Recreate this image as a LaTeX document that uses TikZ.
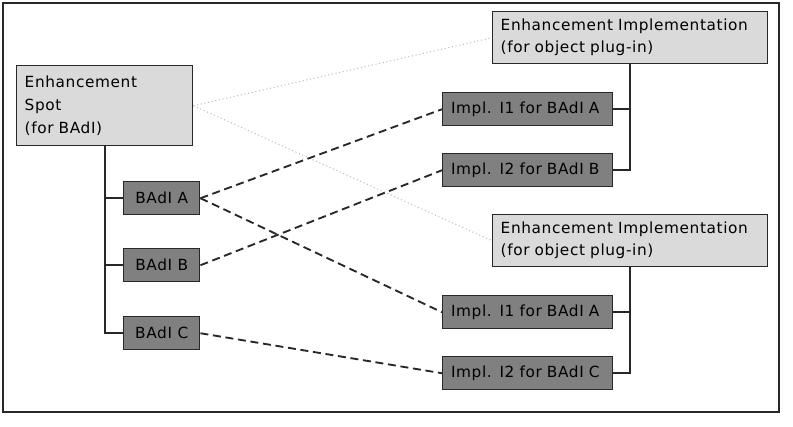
\documentclass[tikz,border=0pt]{standalone}
\usepackage{fontspec}
\setmainfont[LetterSpace=4]{DejaVu Sans}
\definecolor{boxlight}{RGB}{218,218,218}
\definecolor{boxdark}{RGB}{128,128,128}
\definecolor{edge}{RGB}{40,40,40}
\tikzset{
  lightbox/.style={draw=edge, line width=1.1pt, fill=boxlight, anchor=north west,
    align=left, inner xsep=6pt, inner ysep=0pt, font=\fontsize{11.5}{17}\selectfont},
  darkbox/.style={draw=edge, line width=1.1pt, fill=boxdark, anchor=north west,
    inner sep=0pt, minimum height=24.75pt, font=\fontsize{11.5}{13}\selectfont},
  tree/.style={draw=edge, line width=1.2pt},
  link/.style={draw=edge, line width=1.4pt, dash pattern=on 6pt off 3.5pt},
  plug/.style={draw=gray!50, line width=0.8pt, dotted},
}
\begin{document}
\begin{tikzpicture}[x=0.75pt,y=-0.75pt]
    \useasboundingbox (0,0) rectangle (793,426);
    \draw[line width=1.3pt, edge] (3,3) rectangle (779,412);
    % left side
    \node[lightbox, text width=120pt, minimum height=60pt] (spot) at (16,65)
      {Enhancement\\Spot\\(for BAdI)};
    \node[darkbox, minimum width=57pt] (badia) at (123,181) {BAdI A};
    \node[darkbox, minimum width=57pt] (badib) at (123,248) {BAdI B};
    \node[darkbox, minimum width=57pt] (badic) at (123,316) {BAdI C};
    % right side
    \node[lightbox, text width=194pt, minimum height=39pt,
      font=\fontsize{11.5}{16.5}\selectfont] (implup) at (492,11)
      {Enhancement Implementation\\(for object plug-in)};
    \node[darkbox, minimum width=127.5pt, align=left, text width=115pt]
      (upa) at (442,92) {Impl. I1 for BAdI A};
    \node[darkbox, minimum width=127.5pt, align=left, text width=115pt]
      (upb) at (442,153) {Impl. I2 for BAdI B};
    \node[lightbox, text width=194pt, minimum height=39pt,
      font=\fontsize{11.5}{16.5}\selectfont] (impldown) at (492,214)
      {Enhancement Implementation\\(for object plug-in)};
    \node[darkbox, minimum width=127.5pt, align=left, text width=115pt]
      (downa) at (442,295) {Impl. I1 for BAdI A};
    \node[darkbox, minimum width=127.5pt, align=left, text width=115pt]
      (downc) at (442,356) {Impl. I2 for BAdI C};
    % trees
    \draw[tree] (spot.south) |- (badic.west);
    \draw[tree] (spot.south |- badia.west) -- (badia.west);
    \draw[tree] (spot.south |- badib.west) -- (badib.west);
    \draw[tree] (implup.south) |- (upb.east);
    \draw[tree] (implup.south |- upa.east) -- (upa.east);
    \draw[tree] (impldown.south) |- (downc.east);
    \draw[tree] (impldown.south |- downa.east) -- (downa.east);
    % plug-in relations
    \draw[plug] (spot.east) -- (implup.west);
    \draw[plug] (spot.east) -- (impldown.west);
    % implementations
    \draw[link] (badia.east) -- (upa.west);
    \draw[link] (badia.east) -- (downa.west);
    \draw[link] (badib.east) -- (upb.west);
    \draw[link] (badic.east) -- (downc.west);
\end{tikzpicture}
\end{document}
